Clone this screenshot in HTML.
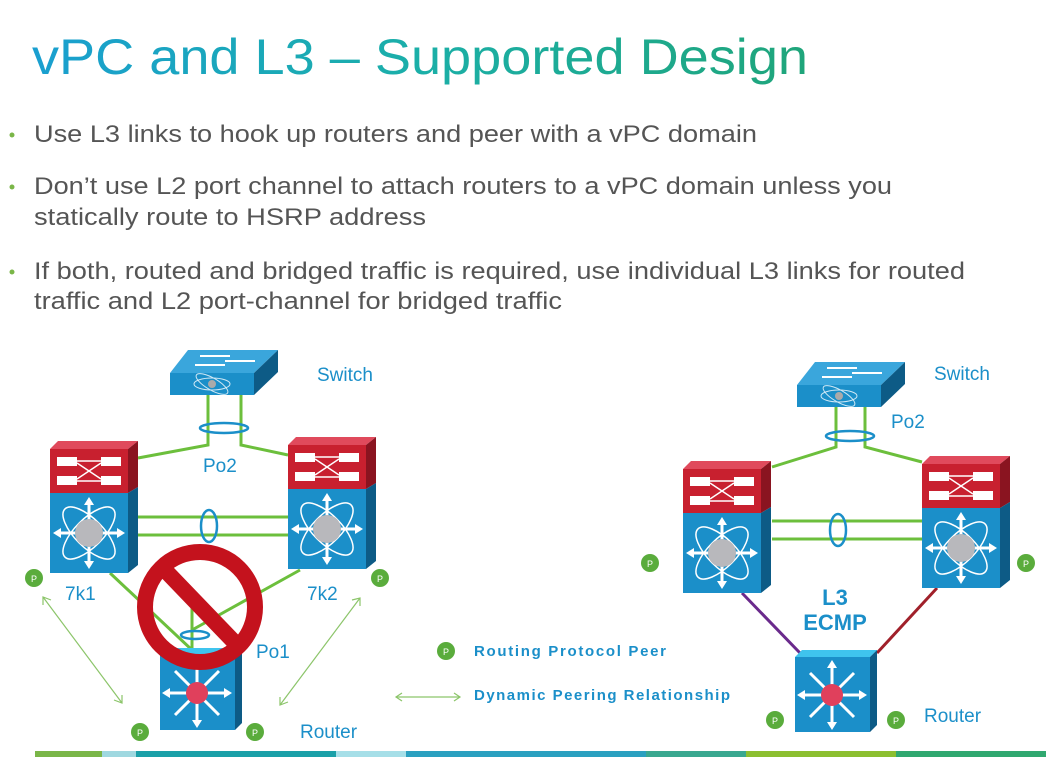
<!DOCTYPE html>
<html><head><meta charset="utf-8"><style>
html,body{margin:0;padding:0;background:#fff;}
svg{display:block;}
text{font-family:"Liberation Sans",sans-serif;}
</style></head><body>
<svg width="1053" height="757" viewBox="0 0 1053 757" xmlns="http://www.w3.org/2000/svg">
<defs>
<linearGradient id="tg" x1="0" x2="1" y1="0" y2="0">
<stop offset="0" stop-color="#1a9fd0"/><stop offset="0.5" stop-color="#1bafa8"/><stop offset="1" stop-color="#1fa57a"/>
</linearGradient>
<g id="nexus">
<polygon points="0,8 8,0 88,0 78,8" fill="#e04a5c"/>
<rect x="0" y="8" width="78" height="44" fill="#c8202f"/>
<polygon points="78,8 88,0 88,46 78,52" fill="#8a1420"/>
<rect x="7" y="16" width="20" height="9" fill="#fff"/><rect x="51" y="16" width="20" height="9" fill="#fff"/>
<rect x="7" y="35" width="20" height="9" fill="#fff"/><rect x="51" y="35" width="20" height="9" fill="#fff"/>
<line x1="27" y1="20" x2="51" y2="20" stroke="#fff" stroke-width="1.5"/><line x1="27" y1="40" x2="51" y2="40" stroke="#fff" stroke-width="1.5"/>
<line x1="27" y1="22" x2="51" y2="38" stroke="#fff" stroke-width="1.5"/><line x1="27" y1="38" x2="51" y2="22" stroke="#fff" stroke-width="1.5"/>
<rect x="0" y="52" width="78" height="80" fill="#1b8fc9"/>
<polygon points="78,52 88,46 88,124 78,132" fill="#0d5b86"/>
<g stroke="#fff" stroke-width="1.5" fill="none">
<ellipse cx="39" cy="92" rx="34" ry="14" transform="rotate(45 39 92)"/>
<ellipse cx="39" cy="92" rx="34" ry="14" transform="rotate(-45 39 92)"/>
</g>
<g stroke="#fff" stroke-width="3">
<line x1="39" y1="60" x2="39" y2="124"/><line x1="7" y1="92" x2="71" y2="92"/>
</g>
<g fill="#fff">
<polygon points="39,56 34,64 44,64"/><polygon points="39,128 34,120 44,120"/>
<polygon points="3,92 11,87 11,97"/><polygon points="75,92 67,87 67,97"/>
</g>
<circle cx="39" cy="92" r="14" fill="#b8b8bc"/>
</g>
<g id="switch">
<polygon points="0,23 18,0 108,0 84,23" fill="#3aa6dc"/>
<rect x="0" y="23" width="84" height="22" fill="#1b8fc9"/>
<polygon points="84,23 108,0 108,22 84,45" fill="#0d5b86"/>
<g stroke="#fff" stroke-width="2"><line x1="30" y1="6" x2="60" y2="6"/><line x1="55" y1="11" x2="85" y2="11"/><line x1="25" y1="15" x2="55" y2="15"/></g>
<g stroke="#cfe8f5" stroke-width="1" fill="none"><ellipse cx="42" cy="34" rx="18" ry="6"/><ellipse cx="42" cy="34" rx="18" ry="6" transform="rotate(30 42 34)"/></g>
<circle cx="42" cy="34" r="4" fill="#aaa"/>
</g>
<g id="router">
<polygon points="0,7 7,0 82,0 75,7" fill="#3fc4ee"/>
<rect x="0" y="7" width="75" height="75" fill="#1b8fc9"/>
<polygon points="75,7 82,0 82,75 75,82" fill="#0d5b86"/>
<g stroke="#fff" stroke-width="3">
<line x1="37" y1="14" x2="37" y2="76"/><line x1="6" y1="45" x2="68" y2="45"/>
<line x1="15" y1="23" x2="59" y2="67"/><line x1="59" y1="23" x2="15" y2="67"/>
</g>
<g fill="#fff">
<polygon points="37,10 32,18 42,18"/><polygon points="37,80 32,72 42,72"/>
<polygon points="2,45 10,40 10,50"/><polygon points="72,45 64,40 64,50"/>
</g>
<circle cx="37" cy="45" r="11" fill="#e0405c"/>
</g>
<g id="peer"><circle r="9" fill="#5aac3c"/><text y="4" text-anchor="middle" font-size="9" fill="#fff">P</text></g>
</defs>

<text x="32" y="74" font-size="50" fill="url(#tg)" textLength="776" lengthAdjust="spacingAndGlyphs">vPC and L3 – Supported Design</text>

<g fill="#7ab648"><circle cx="12" cy="135" r="2.5"/><circle cx="12" cy="187" r="2.5"/><circle cx="12" cy="272" r="2.5"/></g>
<g font-size="24" fill="#555">
<text x="34" y="142" textLength="723" lengthAdjust="spacingAndGlyphs">Use L3 links to hook up routers and peer with a vPC domain</text>
<text x="34" y="194" textLength="858" lengthAdjust="spacingAndGlyphs">Don’t use L2 port channel to attach routers to a vPC domain unless you</text>
<text x="34" y="225" textLength="392" lengthAdjust="spacingAndGlyphs">statically route to HSRP address</text>
<text x="34" y="279" textLength="931" lengthAdjust="spacingAndGlyphs">If both, routed and bridged traffic is required, use individual L3 links for routed</text>
<text x="34" y="309" textLength="528" lengthAdjust="spacingAndGlyphs">traffic and L2 port-channel for bridged traffic</text>
</g>

<g stroke="#6cbf3c" stroke-width="3" fill="none">
<polyline points="208,393 208,445 138,458"/>
<polyline points="241,393 241,445 288,455"/>
<line x1="138" y1="517" x2="288" y2="517"/><line x1="138" y1="535" x2="288" y2="535"/>
<line x1="110" y1="573" x2="192" y2="650"/><line x1="300" y1="570" x2="192" y2="630"/>
<line x1="192" y1="600" x2="192" y2="650"/>
</g>
<use href="#switch" x="170" y="350"/>
<ellipse cx="224" cy="428" rx="24" ry="5" fill="none" stroke="#1b8fc9" stroke-width="2.5"/>
<use href="#nexus" x="50" y="441"/>
<use href="#nexus" x="288" y="437"/>
<ellipse cx="209" cy="526" rx="8" ry="16" fill="none" stroke="#1b8fc9" stroke-width="2.5"/>
<use href="#router" x="160" y="648"/>
<ellipse cx="195" cy="635" rx="14" ry="4" fill="none" stroke="#1b8fc9" stroke-width="2.5"/>
<circle cx="200" cy="607" r="55" fill="none" stroke="#c4121d" stroke-width="16"/>
<line x1="163" y1="568" x2="238" y2="646" stroke="#c4121d" stroke-width="16"/>
<g stroke="#8cc56a" stroke-width="1.2" fill="none">
<line x1="43" y1="597" x2="122" y2="703"/><polyline points="43,605 43,597 51,600"/><polyline points="114,700 122,703 122,695"/>
<line x1="360" y1="598" x2="280" y2="705"/><polyline points="352,600 360,598 360,606"/><polyline points="280,697 280,705 288,702"/>
<line x1="396" y1="697" x2="460" y2="697"/><polyline points="402,693 396,697 402,701"/><polyline points="454,693 460,697 454,701"/>
</g>
<use href="#peer" x="34" y="578"/><use href="#peer" x="380" y="578"/>
<use href="#peer" x="140" y="732"/><use href="#peer" x="255" y="732"/>
<use href="#peer" x="446" y="651"/>
<g fill="#1b8fc9" font-size="19">
<text x="317" y="381">Switch</text>
<text x="203" y="472">Po2</text>
<text x="65" y="600">7k1</text>
<text x="307" y="600">7k2</text>
<text x="256" y="658">Po1</text>
<text x="300" y="738">Router</text>
<text x="934" y="380">Switch</text>
<text x="891" y="428">Po2</text>
<text x="924" y="722">Router</text>
</g>
<g fill="#1b8fc9" font-size="15" font-weight="bold">
<text x="474" y="656" textLength="192" lengthAdjust="spacing">Routing Protocol Peer</text>
<text x="474" y="700" textLength="256" lengthAdjust="spacing">Dynamic Peering Relationship</text>
</g>

<g stroke="#6cbf3c" stroke-width="3" fill="none">
<polyline points="836,405 836,447 772,467"/>
<polyline points="865,405 865,447 922,462"/>
<line x1="772" y1="521" x2="922" y2="521"/><line x1="772" y1="539" x2="922" y2="539"/>
</g>
<line x1="742" y1="593" x2="800" y2="653" stroke="#6a2a8c" stroke-width="3"/>
<line x1="937" y1="588" x2="877" y2="653" stroke="#a0202a" stroke-width="3"/>
<use href="#switch" x="797" y="362"/>
<ellipse cx="850" cy="436" rx="24" ry="5" fill="none" stroke="#1b8fc9" stroke-width="2.5"/>
<use href="#nexus" x="683" y="461"/>
<use href="#nexus" x="922" y="456"/>
<ellipse cx="838" cy="530" rx="8" ry="16" fill="none" stroke="#1b8fc9" stroke-width="2.5"/>
<use href="#router" x="795" y="650"/>
<g fill="#1b8fc9" font-size="22" font-weight="bold" text-anchor="middle">
<text x="835" y="605">L3</text><text x="835" y="630">ECMP</text>
</g>
<use href="#peer" x="650" y="563"/><use href="#peer" x="1026" y="563"/>
<use href="#peer" x="775" y="720"/><use href="#peer" x="896" y="720"/>

<rect x="35" y="751" width="67" height="6" fill="#7ab648"/>
<rect x="102" y="751" width="34" height="6" fill="#9fd8e0"/>
<rect x="136" y="751" width="200" height="6" fill="#1aa0a8"/>
<rect x="336" y="751" width="70" height="6" fill="#a6dfe8"/>
<rect x="406" y="751" width="240" height="6" fill="#2aa0c0"/>
<rect x="646" y="751" width="100" height="6" fill="#3aa890"/>
<rect x="746" y="751" width="150" height="6" fill="#8cbf30"/>
<rect x="896" y="751" width="150" height="6" fill="#30a870"/>
</svg>
</body></html>
